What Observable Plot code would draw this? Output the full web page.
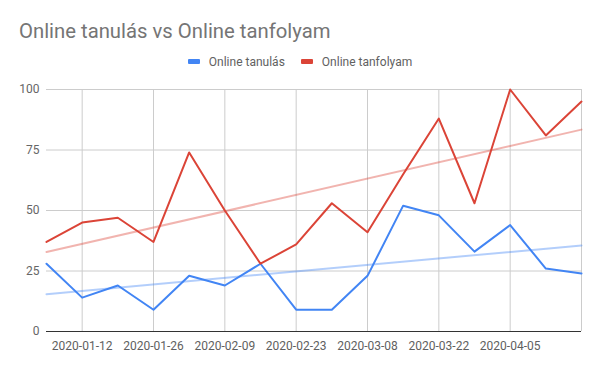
<!DOCTYPE html>
<html>
<head>
<meta charset="utf-8">
<script src="https://cdn.jsdelivr.net/npm/d3@7"></script>
<script src="https://cdn.jsdelivr.net/npm/@observablehq/plot@0.6"></script>
<style>
  html, body { margin: 0; padding: 0; background: #fff; }
  body { width: 600px; height: 371px; overflow: hidden; font-family: Roboto, sans-serif; }
  #title { height: 48px; box-sizing: border-box; padding: 20px 0 0 19px; font-size: 20.3px; color: #757575; line-height: 22px; }
  #legend { height: 27px; display: flex; justify-content: center; align-items: center; font-size: 12px; color: #616161; gap: 0; padding-left: 0px; box-sizing: border-box; padding-bottom: 0px; }
  .item { display: flex; align-items: center; margin: 0 8px; }
  .sw { width: 12px; height: 5px; margin-right: 9px; border-radius: 1px; }
</style>
</head>
<body>
<div id="title">Online tanulás vs Online tanfolyam</div>
<div id="legend"></div>
<div id="chart"></div>
<script>
const dates = ["2020-01-05","2020-01-12","2020-01-19","2020-01-26","2020-02-02","2020-02-09","2020-02-16","2020-02-23","2020-03-01","2020-03-08","2020-03-15","2020-03-22","2020-03-29","2020-04-05","2020-04-12","2020-04-19"];
const onlineTanulas = [28,14,19,9,23,19,28,9,9,23,52,48,33,44,26,24];
const onlineTanfolyam = [37,45,47,37,74,50,28,36,53,41,65,88,53,100,81,95];
const seriesNames = ["Online tanulás","Online tanfolyam"];
const seriesColors = ["#4285F4","#DB4437"];
const yTicks = [0,25,50,75,100];
const gridDates = ["2020-01-12","2020-01-26","2020-02-09","2020-02-23","2020-03-08","2020-03-22","2020-04-05","2020-04-19"];
const labelDates = ["2020-01-12","2020-01-26","2020-02-09","2020-02-23","2020-03-08","2020-03-22","2020-04-05"];

const parse = d3.utcParse("%Y-%m-%d");
const data = [];
dates.forEach((d,i) => {
  data.push({date: parse(d), value: onlineTanulas[i], series: seriesNames[0]});
  data.push({date: parse(d), value: onlineTanfolyam[i], series: seriesNames[1]});
});

const legend = document.getElementById("legend");
seriesNames.forEach((n,i) => {
  const it = document.createElement("div");
  it.className = "item";
  it.innerHTML = `<span class="sw" style="background:${seriesColors[i]}"></span><span>${n}</span>`;
  legend.appendChild(it);
});

const chart = Plot.plot({
  width: 600,
  height: 296,
  marginTop: 14,
  marginLeft: 46,
  marginRight: 19,
  marginBottom: 40,
  style: {fontFamily: "Roboto, sans-serif", fontSize: "12px", color: "#666", background: "#fff"},
  x: {type: "utc", domain: [parse(dates[0]), parse(dates[dates.length-1])]},
  y: {domain: [0, 100]},
  color: {domain: seriesNames, range: seriesColors},
  marks: [
    Plot.ruleY(yTicks.slice(1), {stroke: "#cccccc", strokeWidth: 1}),
    Plot.ruleX(gridDates.map(parse), {stroke: "#cccccc", strokeWidth: 1}),
    Plot.axisY({ticks: yTicks, tickSize: 0, tickPadding: 7, label: null, fill: "#666", fontSize: 12}),
    Plot.axisX({ticks: labelDates.map(parse), tickFormat: d3.utcFormat("%Y-%m-%d"), tickSize: 0, tickPadding: 10, label: null, fill: "#5f5f5f", fontSize: 12}),
    Plot.linearRegressionY(data, {x: "date", y: "value", stroke: "series", ci: 0, strokeWidth: 2, strokeOpacity: 0.4}),
    Plot.line(data, {x: "date", y: "value", stroke: "series", strokeWidth: 2, curve: "linear"}),
    Plot.ruleY([0], {stroke: "#333333", strokeWidth: 1.2})
  ]
});
document.getElementById("chart").appendChild(chart);
</script>
</body>
</html>
